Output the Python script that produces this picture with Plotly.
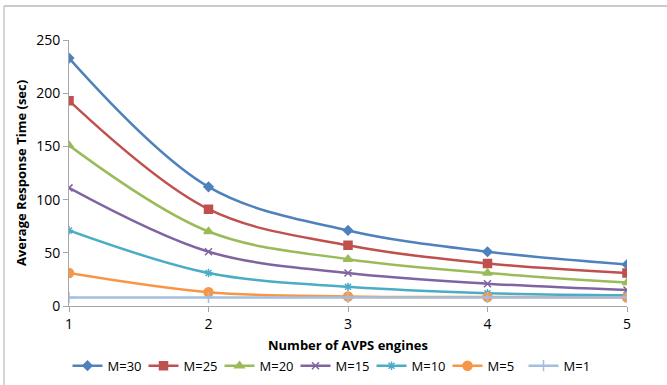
import plotly.graph_objects as go

engines = [1, 2, 3, 4, 5]
series_names = ["M=30", "M=25", "M=20", "M=15", "M=10", "M=5", "M=1"]
m30 = [233, 112, 71, 51, 39]
m25 = [193, 91, 57, 40, 31]
m20 = [151, 70, 44, 31, 22]
m15 = [111, 51, 31, 21, 15]
m10 = [71, 31, 18, 12, 10]
m5 = [31, 13, 9, 8.5, 8]
m1 = [8, 8, 8, 8, 8]
values = [m30, m25, m20, m15, m10, m5, m1]

colors = ["#4F81BD", "#C0504D", "#9BBB59", "#8064A2", "#4BACC6", "#F79646", "#A4BEE0"]
symbols = ["diamond", "square", "triangle-up", "x-thin", "asterisk", "circle", "cross-thin"]
sizes = [7, 8, 8, 7, 7, 9, 8]

fig = go.Figure()
for name, vals, c, s, sz in zip(series_names, values, colors, symbols, sizes):
    fig.add_trace(go.Scatter(
        x=engines, y=vals, name=name, mode="lines+markers",
        line=dict(color=c, width=2.5, shape="spline", smoothing=1.0),
        marker=dict(symbol=s, size=sz, color=c, line=dict(color=c, width=1.5)),
    ))

fig.update_layout(
    width=667, height=385,
    margin=dict(l=69, r=40, t=40, b=79),
    paper_bgcolor="white", plot_bgcolor="white",
    font=dict(family="Open Sans, Liberation Sans, sans-serif", size=13, color="#000000"),
    showlegend=True,
    legend=dict(orientation="h", x=0.5, xanchor="center", xref="container",
                y=0.05, yanchor="middle", yref="container",
                font=dict(size=13), itemwidth=30, tracegroupgap=0,
                entrywidth=31, entrywidthmode="pixels"),
    shapes=[
        dict(type="line", xref="paper", yref="paper", x0=-0.1165, x1=-0.1165, y0=-0.3, y1=1.128,
             line=dict(color="#C8C8C8", width=1.5)),
        dict(type="line", xref="paper", yref="paper", x0=-0.1165, x1=1.08, y0=1.128, y1=1.128,
             line=dict(color="#B8B8B8", width=1.5)),
    ],
    annotations=[
        dict(text="<b>Number of AVPS engines</b>", xref="paper", yref="paper", x=0.5, y=-0.147,
             xanchor="center", yanchor="middle", showarrow=False, font=dict(size=13)),
    ],
)
fig.update_xaxes(
    range=[1, 5], tickvals=engines, showgrid=False, zeroline=False,
    showline=True, linecolor="#A6A6A6", linewidth=1,
    ticks="outside", ticklen=5, tickcolor="#A6A6A6",
    tickfont=dict(size=14), automargin=False,
)
fig.update_yaxes(
    range=[0, 250], dtick=50, showgrid=False, zeroline=False,
    showline=True, linecolor="#A6A6A6", linewidth=1,
    ticks="outside", ticklen=5, tickcolor="#A6A6A6",
    tickfont=dict(size=14), automargin=False,
    title=dict(text="<b>Average Response Time (sec)</b>", font=dict(size=13), standoff=6),
)

fig.write_html("out.html")
